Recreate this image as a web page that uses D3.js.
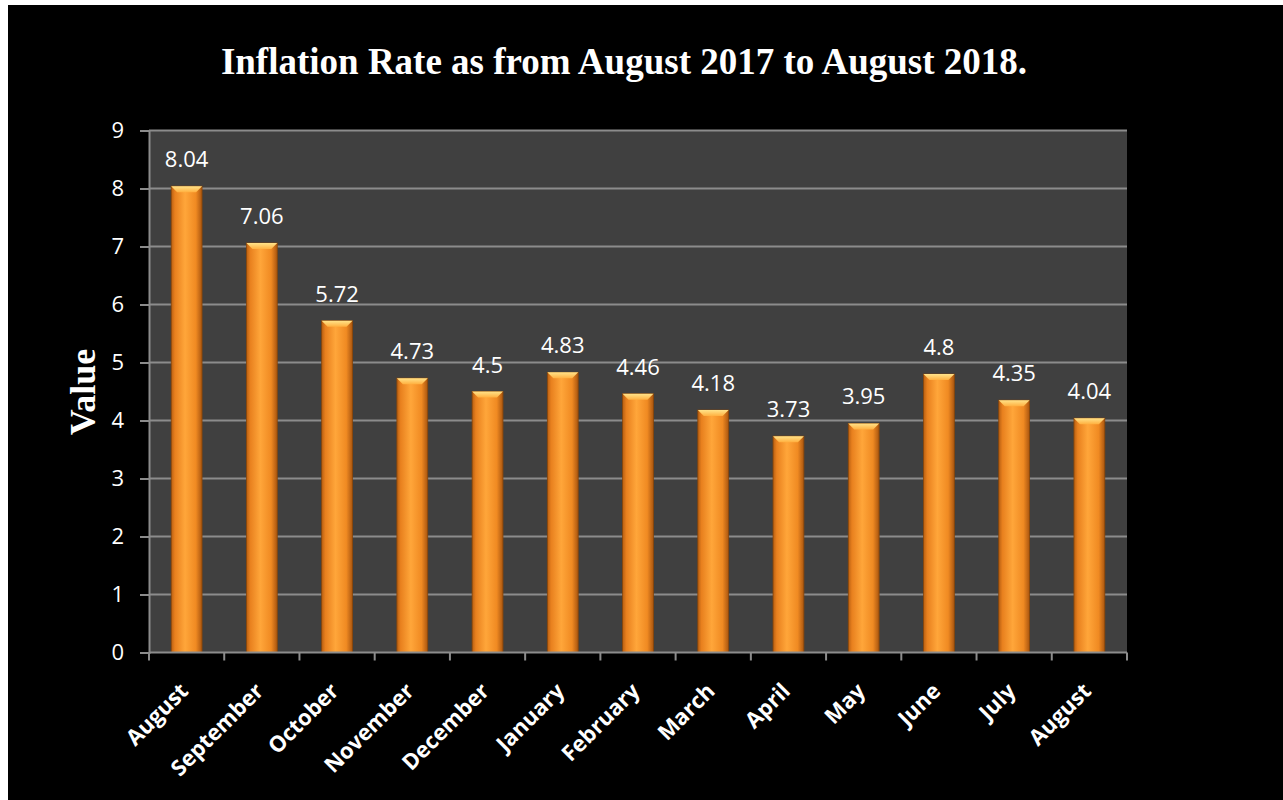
<!DOCTYPE html>
<html>
<head>
<meta charset="utf-8">
<script src="https://cdn.jsdelivr.net/npm/d3@7"></script>
<style>
  html, body { margin: 0; padding: 0; background: #ffffff; }
  svg { display: block; }
</style>
</head>
<body>
<svg id="chart" width="1283" height="800"></svg>
<script>
// Monthly inflation rate, August 2017 – August 2018
const months = ["August", "September", "October", "November", "December", "January",
                "February", "March", "April", "May", "June", "July", "August"];
const rates = [8.04, 7.06, 5.72, 4.73, 4.5, 4.83, 4.46, 4.18, 3.73, 3.95, 4.8, 4.35, 4.04];
const rateLabels = ["8.04", "7.06", "5.72", "4.73", "4.5", "4.83", "4.46", "4.18", "3.73", "3.95", "4.8", "4.35", "4.04"];
const yTicks = [0, 1, 2, 3, 4, 5, 6, 7, 8, 9];

const svg = d3.select("#chart");
const W = 1283, H = 800;

// black slide background with thin white margin at top/left
svg.append("rect").attr("x", 0).attr("y", 0).attr("width", W).attr("height", H).attr("fill", "#ffffff");
svg.append("rect").attr("x", 8).attr("y", 5).attr("width", W - 8).attr("height", H - 5).attr("fill", "#000000");

const plot = { left: 149, right: 1127, top: 130.5, bottom: 652.5 };

const x = d3.scaleBand()
  .domain(d3.range(months.length))
  .range([plot.left, plot.right])
  .paddingInner(0.59)
  .paddingOuter(0.295);

const y = d3.scaleLinear().domain([0, 9]).range([plot.bottom, plot.top]);

// gradients for the bars
const defs = svg.append("defs");
const g1 = defs.append("linearGradient").attr("id", "barGrad").attr("x1", "0").attr("x2", "1").attr("y1", "0").attr("y2", "0");
g1.append("stop").attr("offset", "0%").attr("stop-color", "#b85f12");
g1.append("stop").attr("offset", "12%").attr("stop-color", "#e8801e");
g1.append("stop").attr("offset", "45%").attr("stop-color", "#ffa63a");
g1.append("stop").attr("offset", "80%").attr("stop-color", "#f08a22");
g1.append("stop").attr("offset", "100%").attr("stop-color", "#a9550f");
const g2 = defs.append("linearGradient").attr("id", "capGrad").attr("x1", "0").attr("x2", "0").attr("y1", "0").attr("y2", "1");
g2.append("stop").attr("offset", "0%").attr("stop-color", "#ffe38a");
g2.append("stop").attr("offset", "100%").attr("stop-color", "#ffb040");

// plot area
svg.append("rect")
  .attr("x", plot.left).attr("y", plot.top)
  .attr("width", plot.right - plot.left).attr("height", plot.bottom - plot.top)
  .attr("fill", "#404040");

// gridlines
svg.append("g")
  .selectAll("line")
  .data(yTicks.filter(d => d > 0))
  .join("line")
  .attr("x1", plot.left).attr("x2", plot.right)
  .attr("y1", d => y(d)).attr("y2", d => y(d))
  .attr("stroke", "#8c8c8c").attr("stroke-width", 2);

// bars
const bars = svg.append("g");
bars.selectAll("rect.bar")
  .data(rates)
  .join("rect")
  .attr("class", "bar")
  .attr("x", (d, i) => x(i))
  .attr("y", d => y(d))
  .attr("width", x.bandwidth())
  .attr("height", d => y(0) - y(d))
  .attr("fill", "url(#barGrad)")
  .attr("stroke", "#8a4608").attr("stroke-width", 0.8);

// bevelled cap at the top of each bar
const bevel = 6;
bars.selectAll("path.cap")
  .data(rates)
  .join("path")
  .attr("class", "cap")
  .attr("d", (d, i) => {
    const x0 = x(i), x1 = x(i) + x.bandwidth(), t = y(d);
    return `M${x0},${t} L${x1},${t} L${x1 - bevel},${t + bevel} L${x0 + bevel},${t + bevel} Z`;
  })
  .attr("fill", "url(#capGrad)");

// value labels
svg.append("g")
  .selectAll("text")
  .data(rates)
  .join("text")
  .attr("x", (d, i) => x(i) + x.bandwidth() / 2)
  .attr("y", d => y(d) - 19)
  .attr("text-anchor", "middle")
  .attr("fill", "#ffffff")
  .attr("font-family", "'Open Sans', sans-serif")
  .attr("font-size", 22)
  .text((d, i) => rateLabels[i]);

// y axis
const yAxis = d3.axisLeft(y).tickValues(yTicks).tickSize(9).tickPadding(16).tickFormat(d3.format("d"));
const yg = svg.append("g").attr("transform", `translate(${plot.left},0)`).call(yAxis);
yg.select(".domain").attr("stroke", "#8c8c8c").attr("stroke-width", 2);
yg.selectAll(".tick line").attr("stroke", "#8c8c8c").attr("stroke-width", 2);
yg.selectAll(".tick text")
  .attr("fill", "#ffffff")
  .attr("font-family", "'Open Sans', sans-serif")
  .attr("font-size", 22);

// x axis with ticks on category boundaries
const boundaries = d3.range(months.length + 1).map(i => plot.left + i * x.step());
const xg = svg.append("g");
xg.append("line")
  .attr("x1", plot.left).attr("x2", plot.right)
  .attr("y1", plot.bottom).attr("y2", plot.bottom)
  .attr("stroke", "#8c8c8c").attr("stroke-width", 2);
xg.selectAll("line.tk")
  .data(boundaries)
  .join("line")
  .attr("class", "tk")
  .attr("x1", d => d).attr("x2", d => d)
  .attr("y1", plot.bottom).attr("y2", plot.bottom + 8)
  .attr("stroke", "#8c8c8c").attr("stroke-width", 2);
xg.selectAll("text")
  .data(months)
  .join("text")
  .attr("transform", (d, i) => `translate(${x(i) + x.bandwidth() / 2 + 3},${plot.bottom + 40}) rotate(-45)`)
  .attr("text-anchor", "end")
  .attr("fill", "#ffffff")
  .attr("font-family", "'Open Sans', sans-serif")
  .attr("font-weight", "bold")
  .attr("font-size", 22)
  .text(d => d);

// title
svg.append("text")
  .attr("x", 624).attr("y", 74)
  .attr("text-anchor", "middle")
  .attr("fill", "#ffffff")
  .attr("font-family", "'Liberation Serif', 'Times New Roman', serif")
  .attr("font-weight", "bold")
  .attr("font-size", 37)
  .text("Inflation Rate as from August 2017 to August 2018.");

// y axis title
svg.append("text")
  .attr("transform", `translate(95,392) rotate(-90)`)
  .attr("text-anchor", "middle")
  .attr("fill", "#ffffff")
  .attr("font-family", "'Liberation Serif', 'Times New Roman', serif")
  .attr("font-weight", "bold")
  .attr("font-size", 36)
  .text("Value");
</script>
</body>
</html>
